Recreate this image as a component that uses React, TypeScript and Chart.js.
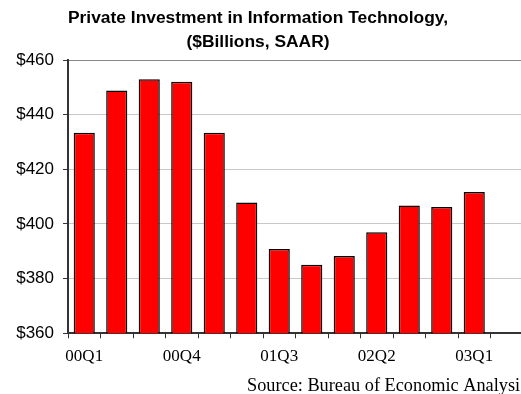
import React, { useEffect, useRef } from "react";
import { Chart, registerables } from "chart.js";

Chart.register(...registerables);

const categories = ["00Q1", "00Q2", "00Q3", "00Q4", "01Q1", "01Q2", "01Q3", "01Q4", "02Q1", "02Q2", "02Q3", "02Q4", "03Q1", "03Q2"];
const investment = [433.4, 448.8, 453, 452, 433.4, 407.9, 390.8, 385.1, 388.3, 397, 406.8, 406.2, 411.7, null];
const shownLabels = ["00Q1", "00Q4", "01Q3", "02Q2", "03Q1"];
const titleLines = ["Private Investment in Information Technology,", "($Billions, SAAR)"];
const sourceText = "Source: Bureau of Economic Analysis";

export default function App() {
  const ref = useRef<HTMLCanvasElement | null>(null);

  useEffect(() => {
    document.body.style.margin = "0";
    document.body.style.overflow = "hidden";
    const canvas = ref.current;
    if (!canvas) return;

    const textPlugin = {
      id: "textPlugin",
      afterDraw(chart: any) {
        const ctx = chart.ctx;
        ctx.save();
        ctx.fillStyle = "#000";
        ctx.font = 'bold 17.4px "Liberation Sans", Arial, sans-serif';
        ctx.textAlign = "center";
        ctx.textBaseline = "alphabetic";
        ctx.fillText(titleLines[0], 258, 23);
        ctx.fillText(titleLines[1], 258, 47);
        ctx.font = '18.3px "Liberation Serif", "Times New Roman", serif';
        ctx.textAlign = "left";
        ctx.fillText(sourceText, 247, 391);
        ctx.restore();
      },
    };

    const chart = new Chart(canvas, {
      type: "bar",
      data: {
        labels: categories,
        datasets: [
          {
            data: investment as any,
            backgroundColor: "#ff0000",
            borderColor: "#000000",
            borderWidth: 1.5,
            borderSkipped: "bottom",
            barPercentage: 0.65,
            categoryPercentage: 1,
          },
        ],
      },
      options: {
        animation: false,
        responsive: false,
        maintainAspectRatio: false,
        layout: { padding: { top: 60, left: 0, right: 0, bottom: 0 } },
        plugins: {
          legend: { display: false },
          title: { display: false },
          tooltip: { enabled: false },
        },
        scales: {
          x: {
            offset: true,
            grid: {
              offset: true,
              drawOnChartArea: false,
              drawTicks: true,
              tickLength: 5,
              tickColor: "#333",
            },
            border: { display: true, color: "#333", width: 2 },
            ticks: {
              autoSkip: false,
              maxRotation: 0,
              minRotation: 0,
              padding: 8,
              color: "#000",
              font: { family: '"Liberation Serif", "Times New Roman", serif', size: 17 },
              callback: (_v: any, i: number) => (shownLabels.includes(categories[i]) ? categories[i] : ""),
            },
            afterFit: (scale: any) => {
              scale.height = 60.7;
            },
          },
          y: {
            min: 360,
            max: 460,
            ticks: {
              stepSize: 20,
              padding: 9,
              color: "#000",
              font: { family: '"Liberation Sans", Arial, sans-serif', size: 17 },
              callback: (v: any) => "$" + v,
            },
            grid: {
              color: (c: any) => (c.tick && c.tick.value === 460 ? "#888" : "#c8c8c8"),
              lineWidth: 1,
              tickLength: 5,
              tickColor: "#333",
            },
            border: { display: true, color: "#333", width: 2 },
            afterFit: (scale: any) => {
              scale.width = 68;
            },
          },
        },
      },
      plugins: [textPlugin],
    });

    return () => chart.destroy();
  }, []);

  return (
    <div style={{ position: "fixed", left: 0, top: 0, width: 521, height: 394, overflow: "hidden", background: "#fff" }}>
      <canvas ref={ref} width={523} height={394} style={{ display: "block", width: 523, height: 394 }} />
    </div>
  );
}
